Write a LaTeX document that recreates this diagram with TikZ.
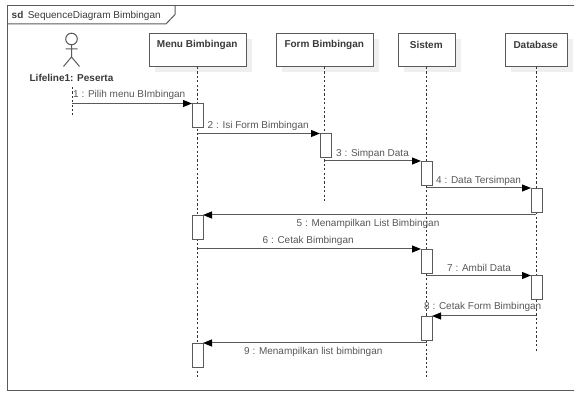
\documentclass[tikz,border=0pt]{standalone}
\usepackage{fontspec}
\setmainfont{Liberation Sans}
\usetikzlibrary{arrows.meta}
\definecolor{sdInk}{HTML}{5A5A5A}
\definecolor{sdText}{HTML}{3A3A3A}
\definecolor{sdShadow}{HTML}{EFEFEF}
\tikzset{
  sdbox/.style={draw=sdInk, fill=white, line width=1pt, anchor=north west, inner sep=0pt},
  sdact/.style={draw=sdInk, fill=white, line width=1pt, anchor=north west, inner sep=0pt, minimum width=11pt, minimum height=24pt},
  sdtitle/.style={font=\fontsize{10}{11}\selectfont\bfseries, text=sdText, inner sep=0pt},
  sdnote/.style={font=\fontsize{10}{11}\selectfont, text=sdText!85, anchor=west, inner sep=0pt},
  sdmsg/.style={-{Triangle[length=9pt,width=7pt,color=black]}, draw=sdInk, line width=1pt, shorten >=-0.5pt},
  sdlife/.style={draw=black!80, line width=0.7pt, dash pattern=on 2.2pt off 2.2pt}
}
\begin{document}
\begin{tikzpicture}[x=1pt, y=-1pt]
\useasboundingbox (0,0) rectangle (574,393);

% frame
\draw[draw=sdInk, line width=1pt] (574,6) -- (7,6) -- (7,390.5) -- (574,390.5);
\draw[draw=sdInk, line width=1pt] (175,6) -- (175,14.5) -- (166,24) -- (7,24);
\node[font=\fontsize{10}{11}\selectfont, text=sdText, anchor=west, inner sep=0pt] (frametitle) at (11.5,16) {\textbf{sd}\, SequenceDiagram Bimbingan};

% actor
\draw[draw=sdInk, line width=1pt] (71.5,39) circle (5.8);
\draw[draw=sdInk, line width=1pt] (71.5,45) -- (71.5,57) -- (63.5,66.5) (71.5,57) -- (79.5,66.5) (65.5,49) -- (77.5,49);
\node[sdtitle] (peserta) at (71.5,78.2) {Lifeline1: Peserta};

% lifeline heads
\foreach \name/\x/\w/\txt in {menu/148.5/97.5/Menu Bimbingan, form/276/96.5/Form Bimbingan, sistem/397.5/57.5/Sistem, db/505/61.5/Database} {
  \fill[sdShadow] (\x+6,39) rectangle (\x+\w+6,72);
  \node[sdbox, minimum width=\w pt, minimum height=33pt] (\name) at (\x,33) {};
  \node[sdtitle] (\name txt) at (\x+\w/2,44.5) {\txt};
}

% lifelines
\coordinate (peserta1) at (72,87);
\coordinate (peserta2) at (72,115);
\coordinate (menuend) at (menu.south |- 0,378);
\coordinate (formend) at (form.south |- 0,201);
\coordinate (sistemend) at (sistem.south |- 0,378);
\coordinate (dbend) at (db.south |- 0,351);
\draw[sdlife] (peserta1) -- (peserta2);
\foreach \name in {menu,form,sistem,db} {
  \draw[sdlife] (\name.south) -- (\name end);
}

% activations
\foreach \name/\x/\y in {actA/191.5/103.5, actB/319.5/133.5, actC/420.5/161, actD/530.5/188, actE/191.5/215, actF/420.5/249, actG/530.5/275.5, actH/420.5/316, actI/191.5/343} {
  \node[sdact] (\name) at (\x,\y) {};
}

% message starts
\coordinate (m1) at (72,103.5);
\coordinate (m2) at (menu.south |- 0,133.5);
\coordinate (m3) at (form.south |- 0,161);
\coordinate (m4) at (sistem.south |- 0,188);
\coordinate (m5) at (db.south |- 0,215);
\coordinate (m6) at (menu.south |- 0,249);
\coordinate (m7) at (sistem.south |- 0,275.5);
\coordinate (m8) at (db.south |- 0,316);
\coordinate (m9) at (sistem.south |- 0,343);

\draw[sdmsg] (m1) -- (actA.north west);
\draw[sdmsg] (m2) -- (actB.north west);
\draw[sdmsg] (m3) -- (actC.north west);
\draw[sdmsg] (m4) -- (actD.north west);
\draw[sdmsg] (m5) -- (actE.north east);
\draw[sdmsg] (m6) -- (actF.north west);
\draw[sdmsg] (m7) -- (actG.north west);
\draw[sdmsg] (m8) -- (actH.north east);
\draw[sdmsg] (m9) -- (actI.north east);

% message labels
\node[sdnote] (t1) at (73,94.8) {1 : Pilih menu BImbingan};
\node[sdnote] (t2) at (207.5,125.5) {2 : Isi Form Bimbingan};
\node[sdnote] (t3) at (336,153.5) {3 : Simpan Data};
\node[sdnote] (t4) at (436,180.5) {4 : Data Tersimpan};
\node[sdnote] (t5) at (296.5,223.5) {5 : Menampilkan List Bimbingan};
\node[sdnote] (t6) at (262.5,240.5) {6 : Cetak Bimbingan};
\node[sdnote] (t7) at (447,267.5) {7 : Ambil Data};
\node[sdnote] (t8) at (424,306.5) {8 : Cetak Form Bimbingan};
\node[sdnote] (t9) at (244,351.5) {9 : Menampilkan list bimbingan};
\end{tikzpicture}
\end{document}
